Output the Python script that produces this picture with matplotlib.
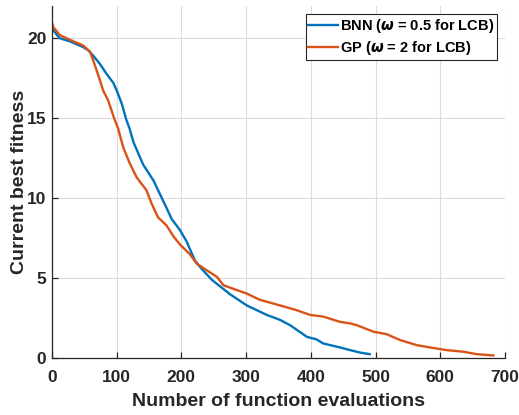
import matplotlib.pyplot as plt

plt.rcParams['font.family'] = ['Liberation Sans', 'DejaVu Sans']
plt.rcParams['font.weight'] = 'bold'
plt.rcParams['mathtext.fontset'] = 'dejavusans'

# BNN (omega = 0.5 for LCB)
bnn_x = [0, 2, 12, 28, 48, 56, 64, 74, 84, 95,
         100, 108, 115, 120, 126, 141, 157, 164, 177, 185,
         198, 208, 221, 231, 247, 275, 301, 332, 352, 368,
         394, 409, 419, 445, 461, 476, 491]
bnn_y = [20.9, 20.5, 20.0, 19.8, 19.45, 19.25, 18.9, 18.4, 17.8, 17.2,
         16.75, 15.9, 14.9, 14.35, 13.5, 12.1, 11.1, 10.5, 9.4, 8.7,
         8.0, 7.3, 6.1, 5.6, 4.9, 4.0, 3.3, 2.7, 2.4, 2.06,
         1.33, 1.17, 0.92, 0.67, 0.5, 0.35, 0.25]

# GP (omega = 2 for LCB)
gp_x = [0, 2, 12, 28, 48, 59, 64, 69, 74, 79,
        87, 92, 97, 102, 110, 120, 131, 146, 154, 164,
        177, 188, 198, 213, 224, 239, 255, 265, 286, 301,
        321, 352, 378, 399, 419, 445, 461, 471, 497, 517,
        538, 564, 584, 610, 636, 656, 682]
gp_y = [21.0, 20.7, 20.2, 19.9, 19.55, 19.15, 18.6, 18.0, 17.4, 16.75,
        16.1, 15.5, 14.9, 14.4, 13.2, 12.2, 11.3, 10.5, 9.67, 8.8,
        8.3, 7.6, 7.1, 6.5, 5.9, 5.5, 5.08, 4.56, 4.25, 4.04,
        3.65, 3.3, 3.0, 2.7, 2.6, 2.27, 2.17, 2.06, 1.65, 1.5,
        1.13, 0.81, 0.67, 0.5, 0.4, 0.25, 0.17]

fig = plt.figure(figsize=(5.19, 4.15), dpi=100)
ax = fig.add_axes([0.100, 0.137, 0.873, 0.848])

ax.plot(bnn_x, bnn_y, color='#0072BD', lw=1.7, label=r'BNN ($\omega$ = 0.5 for LCB)')
ax.plot(gp_x, gp_y, color='#D95319', lw=1.7, label=r'GP ($\omega$ = 2 for LCB)')

ax.set_xlim(0, 700)
ax.set_ylim(0, 22)
ax.set_xticks(range(0, 701, 100))
ax.set_yticks([0, 5, 10, 15, 20])
ax.grid(True, color='#dcdcdc', lw=0.8)
ax.set_axisbelow(True)
for s in ['top', 'right']:
    ax.spines[s].set_visible(False)
for s in ['left', 'bottom']:
    ax.spines[s].set_color('#262626')
    ax.spines[s].set_linewidth(0.9)
ax.tick_params(direction='in', length=4, width=0.9, colors='#262626', labelsize=12.5)
ax.tick_params(axis='x', pad=8.5)
ax.tick_params(axis='y', pad=4)
for lab in ax.get_xticklabels() + ax.get_yticklabels():
    lab.set_fontweight('bold')

ax.set_xlabel('Number of function evaluations', fontsize=14, fontweight='bold',
              color='#262626', labelpad=6)
ax.set_ylabel('Current best fitness', fontsize=14, fontweight='bold',
              color='#262626', labelpad=-1)

leg = ax.legend(loc='upper right', bbox_to_anchor=(0.982, 0.977), borderaxespad=0,
                fancybox=False, framealpha=1, edgecolor='#262626', fontsize=10.5,
                handlelength=2.0, handletextpad=0.15, borderpad=0.2, labelspacing=0.25)
leg.get_frame().set_linewidth(0.8)
for t in leg.get_texts():
    t.set_fontweight('bold')

fig.savefig('out.png', dpi=100)
